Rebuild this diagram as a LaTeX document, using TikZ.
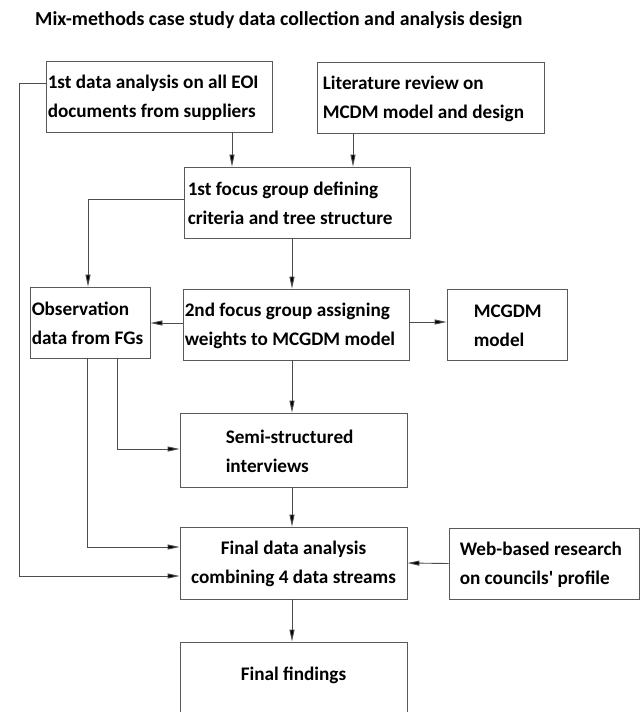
\documentclass[tikz,border=0pt]{standalone}
\usepackage{fontspec}
\setmainfont{Carlito}[Ligatures=TeXOff]
\usetikzlibrary{arrows.meta}
\tikzset{
  box/.style={draw=black!65, line width=0.9pt, rectangle, inner sep=0pt},
  arr/.style={draw=black!70, line width=0.9pt, -{Triangle[length=12pt,width=5pt,fill=black]}},
  lbl/.style={font=\fontsize{19.2}{29}\selectfont\bfseries, inner sep=0pt, align=left, anchor=west},
}
\begin{document}
\begin{tikzpicture}[x=1pt,y=-1pt]
\useasboundingbox (0,0) rectangle (640,712);
\clip (0,0) rectangle (640,712);
\fill[white] (0,0) rectangle (640,712);
\node[lbl, anchor=base west, font=\fontsize{19.8}{29}\selectfont\bfseries] (title) at (35,25) {Mix-methods case study data collection and analysis design};

\node[box, minimum height=71pt, minimum width=226pt] (A) at (159,96.5) {};
\node[box, minimum height=71pt, minimum width=227pt] (B) at (430.5,97.5) {};
\node[box, minimum height=71pt, minimum width=226pt] (C) at (297,202.5) {};
\node[box, minimum height=71pt, minimum width=120pt] (Obs) at (90,322.5) {};
\node[box, minimum height=71pt, minimum width=226pt] (D) at (296,324.5) {};
\node[box, minimum height=71pt, minimum width=120pt] (M) at (507,324.5) {};
\node[box, minimum height=74pt, minimum width=227pt] (Semi) at (293.5,450) {};
\node[box, minimum height=72pt, minimum width=227pt] (Final) at (293.5,563) {};
\node[box, minimum height=71pt, minimum width=190pt] (Web) at (544,563.5) {};
\node[box, minimum height=120pt, minimum width=227pt] (Fbox) at (293.5,702) {};

\node[lbl] (At) at ([xshift=2pt,yshift=-1pt]A.west) {1st data analysis on all EOI\\documents from suppliers};
\node[lbl] (Bt) at ([xshift=6pt,yshift=-1pt]B.west) {Literature review on\\MCDM model and design};
\node[lbl] (Ct) at ([xshift=4pt,yshift=-1pt]C.west) {1st focus group defining\\criteria and tree structure};
\node[lbl] (Obst) at ([xshift=2pt,yshift=-1pt]Obs.west) {Observation\\data from FGs};
\node[lbl] (Dt) at ([xshift=2pt,yshift=-1pt]D.west) {2nd focus group assigning\\weights to MCGDM model};
\node[lbl] (Mt) at ([xshift=27pt,yshift=-1pt]M.west) {MCGDM\\model};
\node[lbl] (Semit) at ([xshift=46pt,yshift=-1pt]Semi.west) {Semi-structured\\interviews};
\node[lbl, anchor=center, align=center] (Finalt) at ([yshift=-1pt]Final.center) {Final data analysis\\combining 4 data streams};
\node[lbl] (Webt) at ([xshift=11pt,yshift=-1pt]Web.west) {Web-based research\\on councils' profile};
\node[lbl, anchor=center] (F) at (293.5,675) {Final findings};

\coordinate (L) at (19,83);

\draw[arr] ([xshift=73pt]A.south) -- ([xshift=73pt]A.south |- C.north);
\draw[arr] ([xshift=-77.5pt]B.south) -- ([xshift=-77.5pt]B.south |- C.north);
\draw[arr] ([yshift=3.5pt]C.west) -| ([xshift=-2pt]Obs.north);
\draw[arr] ([xshift=-5pt]C.south) -- ([xshift=-5pt]C.south |- D.north);
\draw[arr] ([yshift=1.5pt]D.west) -- ([yshift=1.5pt]D.west -| Obs.east);
\draw[arr] ([yshift=2.5pt]D.east) -- ([yshift=2.5pt]D.east -| M.west);
\draw[arr] ([xshift=-4pt]D.south) -- ([xshift=-4pt]D.south |- Semi.north);
\draw[arr] ([xshift=27pt]Obs.south) |- ([yshift=1pt]Semi.west);
\draw[arr] ([xshift=-3pt]Obs.south) |- ([yshift=16pt]Final.west);
\draw[arr] ([yshift=13.5pt]A.west) -- (L) |- ([yshift=-13pt]Final.west);
\draw[arr] ([xshift=-1.5pt]Semi.south) -- ([xshift=-1.5pt]Semi.south |- Final.north);
\draw[arr] (Web.west) -- (Final.east);
\draw[arr] ([xshift=-1.5pt]Final.south) -- ([xshift=-1.5pt]Final.south |- Fbox.north);
\end{tikzpicture}
\end{document}
